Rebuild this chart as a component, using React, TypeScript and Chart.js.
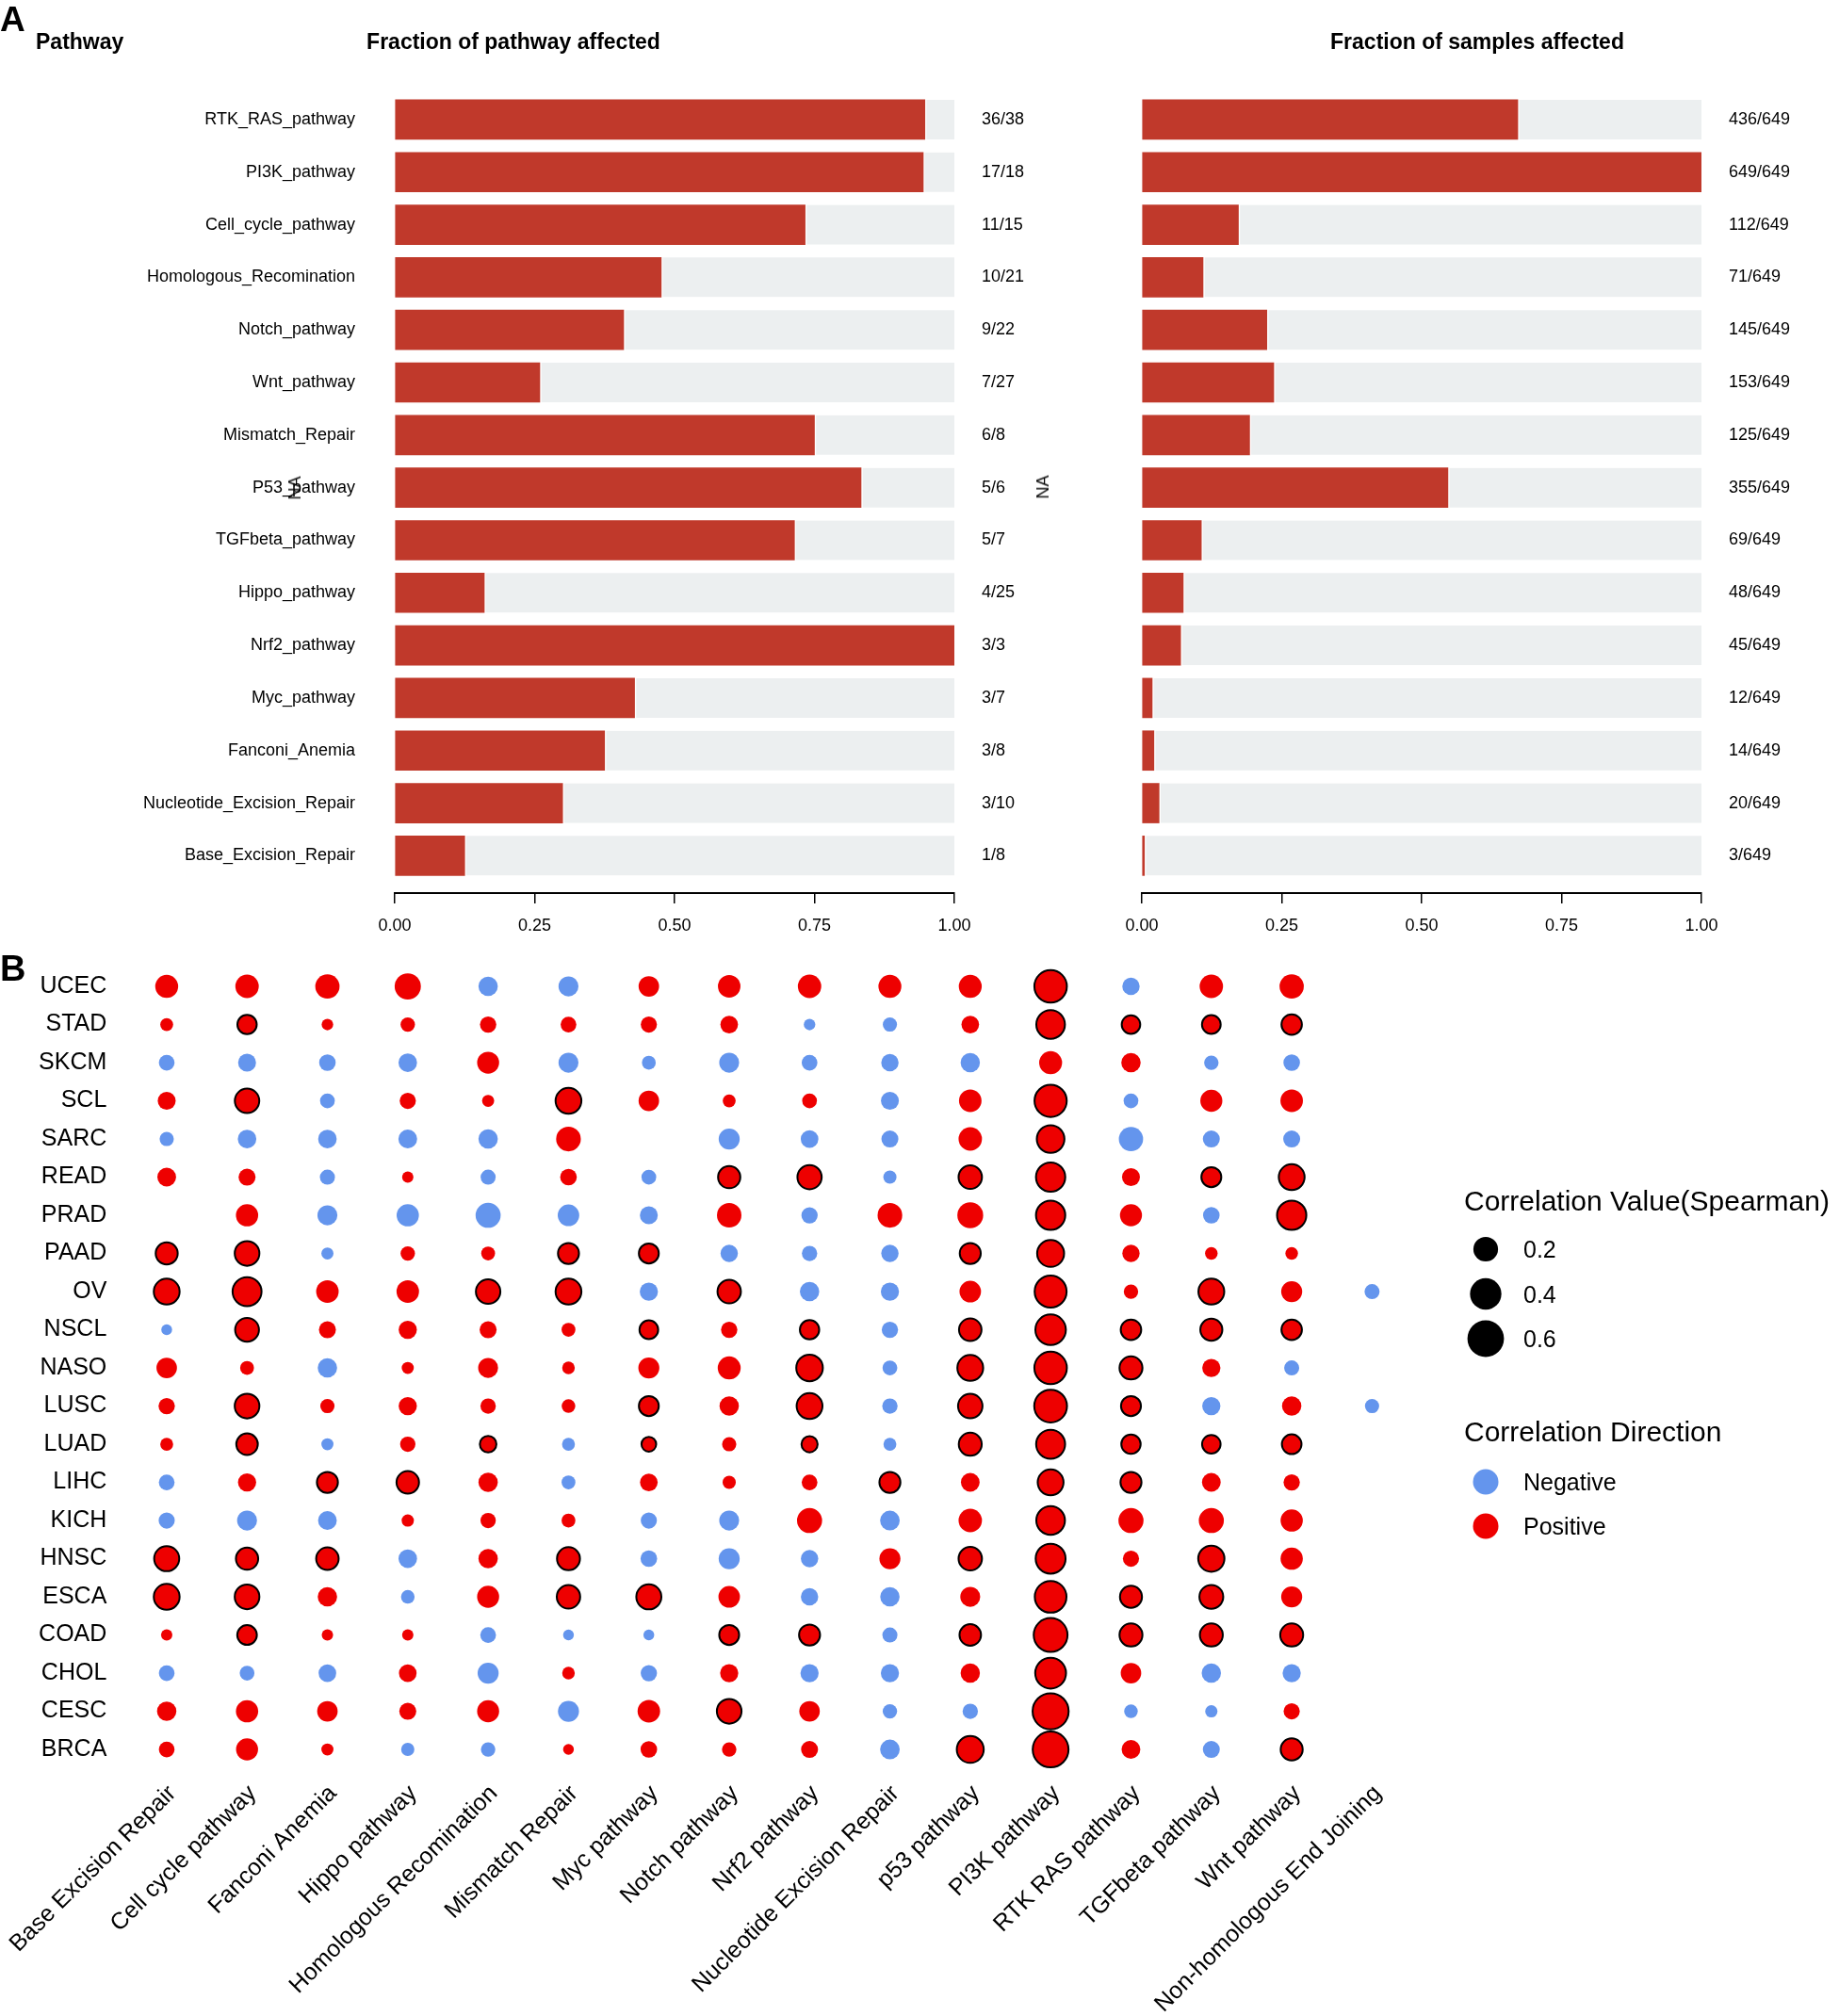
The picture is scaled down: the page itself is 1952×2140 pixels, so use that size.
import React, { useEffect, useRef } from 'react';
import { Chart, registerables } from 'chart.js';

Chart.register(...registerables);

const FONT = '"Liberation Sans", Arial, Helvetica, sans-serif';
const BAR_RED = '#C0392B';
const BAR_GREY = '#ECEFF0';
const POS_RED = '#EE0000';
const NEG_BLUE = '#6495ED';

// ---------- Panel A data ----------
const PATHWAYS = [
  'RTK_RAS_pathway', 'PI3K_pathway', 'Cell_cycle_pathway', 'Homologous_Recomination',
  'Notch_pathway', 'Wnt_pathway', 'Mismatch_Repair', 'P53_pathway', 'TGFbeta_pathway',
  'Hippo_pathway', 'Nrf2_pathway', 'Myc_pathway', 'Fanconi_Anemia',
  'Nucleotide_Excision_Repair', 'Base_Excision_Repair',
];
const GENES_ALTERED = [36, 17, 11, 10, 9, 7, 6, 5, 5, 4, 3, 3, 3, 3, 1];
const GENES_TOTAL = [38, 18, 15, 21, 22, 27, 8, 6, 7, 25, 3, 7, 8, 10, 8];
const SAMPLES_ALTERED = [436, 649, 112, 71, 145, 153, 125, 355, 69, 48, 45, 12, 14, 20, 3];
const SAMPLES_TOTAL = 649;
const FRACTION_TICKS = [0, 0.25, 0.5, 0.75, 1];

// ---------- Panel B data ----------
const PATHWAY_COLS = [
  'Base Excision Repair', 'Cell cycle pathway', 'Fanconi Anemia', 'Hippo pathway',
  'Homologous Recomination', 'Mismatch Repair', 'Myc pathway', 'Notch pathway',
  'Nrf2 pathway', 'Nucleotide Excision Repair', 'p53 pathway', 'PI3K pathway',
  'RTK RAS pathway', 'TGFbeta pathway', 'Wnt pathway', 'Non-homologous End Joining',
];
const CANCERS = [
  'UCEC', 'STAD', 'SKCM', 'SCL', 'SARC', 'READ', 'PRAD', 'PAAD', 'OV', 'NSCL', 'NASO',
  'LUSC', 'LUAD', 'LIHC', 'KICH', 'HNSC', 'ESCA', 'COAD', 'CHOL', 'CESC', 'BRCA',
];

// Spearman correlation per cancer (columns follow PATHWAY_COLS); null = not tested
const UCEC = [0.16, 0.17, 0.19, 0.24, -0.09, -0.10, 0.11, 0.15, 0.17, 0.16, 0.16, 0.44, -0.06, 0.17, 0.19, null];
const STAD = [0.015, 0.09, 0.007, 0.027, 0.047, 0.04, 0.045, 0.064, -0.007, -0.025, 0.064, 0.31, 0.077, 0.08, 0.109, null];
const SKCM = [-0.04, -0.068, -0.05, -0.077, 0.139, -0.10, -0.022, -0.10, -0.04, -0.06, -0.09, 0.16, 0.09, -0.027, -0.05, null];
const SCL = [0.068, 0.195, -0.03, 0.045, 0.01, 0.23, 0.11, 0.015, 0.03, -0.068, 0.15, 0.43, -0.03, 0.14, 0.15, null];
const SARC = [-0.025, -0.077, -0.077, -0.08, -0.09, 0.2, null, -0.12, -0.064, -0.055, 0.17, 0.28, -0.19, -0.055, -0.055, null];
const READ = [0.08, 0.055, -0.033, 0.006, -0.033, 0.05, -0.03, 0.145, 0.19, -0.017, 0.17, 0.33, 0.068, 0.10, 0.23, null];
const PRAD = [null, 0.145, -0.10, -0.145, -0.21, -0.13, -0.068, 0.195, -0.047, 0.2, 0.23, 0.33, 0.14, -0.05, 0.33, null];
const PAAD = [0.14, 0.2, -0.01, 0.027, 0.022, 0.12, 0.10, -0.06, -0.036, -0.06, 0.12, 0.26, 0.06, 0.013, 0.013, null];
const OV = [0.23, 0.32, 0.15, 0.15, 0.195, 0.23, -0.072, 0.17, -0.09, -0.072, 0.13, 0.42, 0.027, 0.23, 0.12, -0.033];
const NSCL = [-0.004, 0.18, 0.055, 0.072, 0.055, 0.022, 0.08, 0.047, 0.09, -0.047, 0.15, 0.37, 0.11, 0.14, 0.11, null];
const NASO = [0.11, 0.022, -0.09, 0.01, 0.10, 0.013, 0.12, 0.16, 0.25, -0.03, 0.23, 0.44, 0.16, 0.072, -0.033, null];
const LUSC = [0.047, 0.2, 0.025, 0.072, 0.036, 0.02, 0.10, 0.09, 0.23, -0.036, 0.195, 0.45, 0.10, -0.072, 0.09, -0.025];
const LUAD = [0.015, 0.13, -0.01, 0.036, 0.05, -0.015, 0.03, 0.025, 0.045, -0.015, 0.16, 0.32, 0.09, 0.077, 0.095, null];
const LIHC = [-0.04, 0.072, 0.12, 0.15, 0.09, -0.022, 0.064, 0.017, 0.04, 0.12, 0.08, 0.23, 0.12, 0.08, 0.047, null];
const KICH = [-0.045, -0.10, -0.08, 0.011, 0.036, 0.022, -0.045, -0.10, 0.21, -0.095, 0.17, 0.31, 0.21, 0.21, 0.145, null];
const HNSC = [0.21, 0.145, 0.15, -0.077, 0.09, 0.16, -0.05, -0.12, -0.06, 0.12, 0.17, 0.35, 0.045, 0.24, 0.145, null];
const ESCA = [0.23, 0.2, 0.09, -0.02, 0.14, 0.17, 0.21, 0.13, -0.06, -0.09, 0.10, 0.41, 0.14, 0.18, 0.12, null];
const COAD = [0.006, 0.095, 0.006, 0.006, -0.04, -0.004, -0.004, 0.10, 0.12, -0.033, 0.13, 0.49, 0.16, 0.16, 0.16, null];
const CHOL = [-0.04, -0.03, -0.064, 0.064, -0.12, 0.013, -0.047, 0.072, -0.072, -0.072, 0.09, 0.38, 0.11, -0.09, -0.072, null];
const CESC = [0.09, 0.145, 0.11, 0.055, 0.14, -0.12, 0.15, 0.2, 0.11, -0.027, -0.036, 0.58, -0.02, -0.011, 0.045, null];
const BRCA = [0.04, 0.14, 0.01, -0.017, -0.027, 0.004, 0.05, 0.027, 0.055, -0.095, 0.26, 0.57, 0.08, -0.055, 0.14, null];

// columns (indexes into PATHWAY_COLS) that are significant (black outline)
const SIG_UCEC = [11];
const SIG_STAD = [1, 11, 12, 13, 14];
const SIG_SKCM: number[] = [];
const SIG_SCL = [1, 5, 11];
const SIG_SARC = [11];
const SIG_READ = [7, 8, 10, 11, 13, 14];
const SIG_PRAD = [11, 14];
const SIG_PAAD = [0, 1, 5, 6, 10, 11];
const SIG_OV = [0, 1, 4, 5, 7, 11, 13];
const SIG_NSCL = [1, 6, 8, 10, 11, 12, 13, 14];
const SIG_NASO = [8, 10, 11, 12];
const SIG_LUSC = [1, 6, 8, 10, 11, 12];
const SIG_LUAD = [1, 4, 6, 8, 10, 11, 12, 13, 14];
const SIG_LIHC = [2, 3, 9, 11, 12];
const SIG_KICH = [11];
const SIG_HNSC = [0, 1, 2, 5, 10, 11, 13];
const SIG_ESCA = [0, 1, 5, 6, 11, 12, 13];
const SIG_COAD = [1, 7, 8, 10, 11, 12, 13, 14];
const SIG_CHOL = [11];
const SIG_CESC = [7, 11];
const SIG_BRCA = [10, 11, 14];

const CORR_ROWS = [UCEC, STAD, SKCM, SCL, SARC, READ, PRAD, PAAD, OV, NSCL, NASO, LUSC, LUAD, LIHC, KICH, HNSC, ESCA, COAD, CHOL, CESC, BRCA];
const SIG_ROWS = [SIG_UCEC, SIG_STAD, SIG_SKCM, SIG_SCL, SIG_SARC, SIG_READ, SIG_PRAD, SIG_PAAD, SIG_OV, SIG_NSCL, SIG_NASO, SIG_LUSC, SIG_LUAD, SIG_LIHC, SIG_KICH, SIG_HNSC, SIG_ESCA, SIG_COAD, SIG_CHOL, SIG_CESC, SIG_BRCA];
const SIZE_BREAKS = [0.2, 0.4, 0.6];

// size scale (area-like, as ggplot scale_size)
function radiusFor(v: number) {
  return (9 + 31 * Math.sqrt(Math.min(Math.abs(v), 0.65) / 0.65)) / 2;
}

function barConfig(values: number[], counts: string[], showNames: boolean, padLeft: number, yWidth: number, y2Width: number, xHeight: number): any {
  const rowTicks = (ax: any) => {
    ax.ticks = values.map((_, i) => ({ value: i }));
  };
  return {
    type: 'bar',
    data: {
      datasets: [
        {
          data: values.map((v, i) => ({ x: v, y: i })),
          backgroundColor: BAR_RED,
          borderWidth: 0,
          barThickness: 42,
          maxBarThickness: 42,
        },
        {
          data: values.map((v, i) => ({ x: 1 - v, y: i })),
          backgroundColor: BAR_GREY,
          borderColor: '#ffffff',
          borderWidth: { left: 2, right: 0, top: 0, bottom: 0 },
          borderSkipped: false,
          barThickness: 42,
          maxBarThickness: 42,
        },
      ],
    },
    options: {
      indexAxis: 'y',
      responsive: false,
      animation: false,
      devicePixelRatio: 1,
      events: [],
      layout: { padding: { top: 99, left: padLeft, right: 0, bottom: 0 } },
      plugins: { legend: { display: false }, tooltip: { enabled: false }, title: { display: false } },
      scales: {
        x: {
          type: 'linear',
          stacked: true,
          min: 0,
          max: 1,
          offset: false,
          afterBuildTicks: (ax: any) => {
            ax.ticks = FRACTION_TICKS.map((v) => ({ value: v }));
          },
          ticks: {
            callback: (v: any) => Number(v).toFixed(2),
            font: { family: FONT, size: 18 },
            color: '#000',
            padding: 13,
            maxRotation: 0,
            autoSkip: false,
          },
          grid: { display: true, drawOnChartArea: false, drawTicks: true, tickLength: 11, color: '#000', lineWidth: 1.5 },
          border: { display: true, color: '#000', width: 2 },
          afterFit: (ax: any) => {
            ax.height = xHeight;
            ax.paddingLeft = 0;
            ax.paddingRight = 0;
          },
        },
        y: {
          type: 'linear',
          stacked: true,
          reverse: true,
          offset: false,
          min: -0.5,
          max: 14.71,
          display: showNames,
          afterBuildTicks: rowTicks,
          ticks: {
            callback: (v: any) => PATHWAYS[v],
            font: { family: FONT, size: 18 },
            color: '#000',
            padding: 42,
            autoSkip: false,
          },
          grid: { display: false, drawTicks: false },
          border: { display: false },
          afterFit: (ax: any) => {
            ax.width = yWidth;
            ax.paddingTop = 0;
            ax.paddingBottom = 0;
          },
        },
        y2: {
          type: 'linear',
          position: 'right',
          reverse: true,
          offset: false,
          min: -0.5,
          max: 14.71,
          afterBuildTicks: rowTicks,
          ticks: {
            callback: (v: any) => counts[v],
            font: { family: FONT, size: 18 },
            color: '#000',
            padding: 29,
            autoSkip: false,
          },
          grid: { display: false, drawTicks: false },
          border: { display: false },
          afterFit: (ax: any) => {
            ax.width = y2Width;
            ax.paddingTop = 0;
            ax.paddingBottom = 0;
          },
        },
      },
    },
  };
}

const BUBBLE_TOP = 1000;

const legendPlugin = {
  id: 'corrLegend',
  afterDraw(chart: any) {
    const ctx = chart.ctx as CanvasRenderingContext2D;
    const oy = -BUBBLE_TOP;
    ctx.save();
    ctx.fillStyle = '#000';
    ctx.textAlign = 'left';
    ctx.textBaseline = 'alphabetic';
    ctx.font = `30px ${FONT}`;
    ctx.fillText('Correlation Value(Spearman)', 1554, 1285 + oy);
    SIZE_BREAKS.forEach((b, i) => {
      const cy = 1326 + i * 47.5 + oy;
      ctx.fillStyle = '#000';
      ctx.beginPath();
      ctx.arc(1577, cy, radiusFor(b), 0, Math.PI * 2);
      ctx.fill();
      ctx.font = `25px ${FONT}`;
      ctx.fillText(b.toFixed(1), 1617, cy + 9);
    });
    ctx.font = `30px ${FONT}`;
    ctx.fillText('Correlation Direction', 1554, 1530 + oy);
    const dirs: [string, string, number][] = [
      ['Negative', NEG_BLUE, 1573],
      ['Positive', POS_RED, 1620],
    ];
    dirs.forEach(([label, color, py]) => {
      const cy = py + oy;
      ctx.fillStyle = color;
      ctx.beginPath();
      ctx.arc(1577, cy, 13.5, 0, Math.PI * 2);
      ctx.fill();
      ctx.fillStyle = '#000';
      ctx.font = `25px ${FONT}`;
      ctx.fillText(label, 1617, cy + 9);
    });
    ctx.restore();
  },
};

function bubbleConfig(): any {
  const points: any[] = [];
  CORR_ROWS.forEach((row, r) => {
    row.forEach((v, c) => {
      if (v === null || v === undefined) return;
      points.push({
        x: PATHWAY_COLS[c],
        y: CANCERS[r],
        r: radiusFor(v as number),
        v: v,
        sig: SIG_ROWS[r].includes(c),
      });
    });
  });
  return {
    type: 'bubble',
    data: {
      datasets: [
        {
          data: points,
          backgroundColor: (ctx: any) => (ctx.raw && ctx.raw.v < 0 ? NEG_BLUE : POS_RED),
          borderColor: '#000',
          borderWidth: (ctx: any) => (ctx.raw && ctx.raw.sig ? 2 : 0),
          clip: false,
        },
      ],
    },
    options: {
      responsive: false,
      animation: false,
      devicePixelRatio: 1,
      events: [],
      layout: { padding: { top: 26.8, right: 453, left: 0, bottom: 0 } },
      plugins: { legend: { display: false }, tooltip: { enabled: false } },
      scales: {
        x: {
          type: 'category',
          labels: PATHWAY_COLS,
          offset: true,
          grid: { display: false, drawTicks: false },
          border: { display: false },
          ticks: {
            autoSkip: false,
            minRotation: 45,
            maxRotation: 45,
            font: { family: FONT, size: 25 },
            color: '#000',
            padding: 12,
            labelOffset: 6,
          },
          afterFit: (ax: any) => {
            ax.height = 262.7;
            ax.paddingLeft = 0;
            ax.paddingRight = 0;
          },
        },
        y: {
          type: 'category',
          labels: CANCERS,
          offset: true,
          grid: { display: false, drawTicks: false },
          border: { display: false },
          ticks: {
            autoSkip: false,
            font: { family: FONT, size: 25 },
            color: '#000',
            padding: 21,
          },
          afterFit: (ax: any) => {
            ax.width = 134.3;
            ax.paddingTop = 0;
            ax.paddingBottom = 0;
          },
        },
      },
    },
    plugins: [legendPlugin],
  };
}

const textBase: React.CSSProperties = {
  position: 'absolute',
  fontFamily: FONT,
  color: '#000',
  lineHeight: 1,
  whiteSpace: 'nowrap',
  margin: 0,
};

function Label({ text, x, baseline, size, bold, align }: { text: string; x: number; baseline: number; size: number; bold?: boolean; align?: 'left' | 'center' }) {
  const top = baseline - 0.8465 * size;
  const style: React.CSSProperties = {
    ...textBase,
    top,
    left: x,
    fontSize: size,
    fontWeight: bold ? 'bold' : 'normal',
    transform: align === 'center' ? 'translateX(-50%)' : undefined,
  };
  return <div style={style}>{text}</div>;
}

function Rotated({ text, cx, cy, size }: { text: string; cx: number; cy: number; size: number }) {
  return (
    <div
      style={{
        ...textBase,
        left: cx,
        top: cy,
        fontSize: size,
        transform: 'translate(-50%, -50%) rotate(-90deg)',
      }}
    >
      {text}
    </div>
  );
}

export default function App() {
  const leftRef = useRef<HTMLCanvasElement>(null);
  const rightRef = useRef<HTMLCanvasElement>(null);
  const bubbleRef = useRef<HTMLCanvasElement>(null);

  useEffect(() => {
    document.body.style.margin = '0';
    const geneFrac = GENES_ALTERED.map((a, i) => a / GENES_TOTAL[i]);
    const geneCounts = GENES_ALTERED.map((a, i) => `${a}/${GENES_TOTAL[i]}`);
    const sampleFrac = SAMPLES_ALTERED.map((a) => a / SAMPLES_TOTAL);
    const sampleCounts = SAMPLES_ALTERED.map((a) => `${a}/${SAMPLES_TOTAL}`);

    const charts: Chart[] = [];
    if (leftRef.current) {
      charts.push(new Chart(leftRef.current, barConfig(geneFrac, geneCounts, true, 0, 419, 137, 62)));
    }
    if (rightRef.current) {
      charts.push(new Chart(rightRef.current, barConfig(sampleFrac, sampleCounts, false, 62, 0, 146, 62)));
    }
    if (bubbleRef.current) {
      charts.push(new Chart(bubbleRef.current, bubbleConfig()));
    }
    return () => {
      charts.forEach((c) => c.destroy());
    };
  }, []);

  return (
    <div style={{ position: 'relative', width: 1952, height: 2140, overflow: 'hidden', background: '#fff' }}>
      <canvas ref={leftRef} width={1150} height={1010} style={{ position: 'absolute', left: 0, top: 0 }} />
      <canvas ref={rightRef} width={802} height={1010} style={{ position: 'absolute', left: 1150, top: 0 }} />
      <canvas ref={bubbleRef} width={1952} height={2140 - BUBBLE_TOP} style={{ position: 'absolute', left: 0, top: BUBBLE_TOP }} />
      <Label text="A" x={0} baseline={33} size={37} bold />
      <Label text="Pathway" x={38} baseline={52} size={23} bold />
      <Label text="Fraction of pathway affected" x={545} baseline={52} size={23} bold align="center" />
      <Label text="Fraction of samples affected" x={1568} baseline={52} size={23} bold align="center" />
      <Rotated text="NA" cx={313} cy={518} size={18} />
      <Rotated text="NA" cx={1107} cy={517} size={18} />
      <Label text="B" x={0} baseline={1041} size={38} bold />
    </div>
  );
}
